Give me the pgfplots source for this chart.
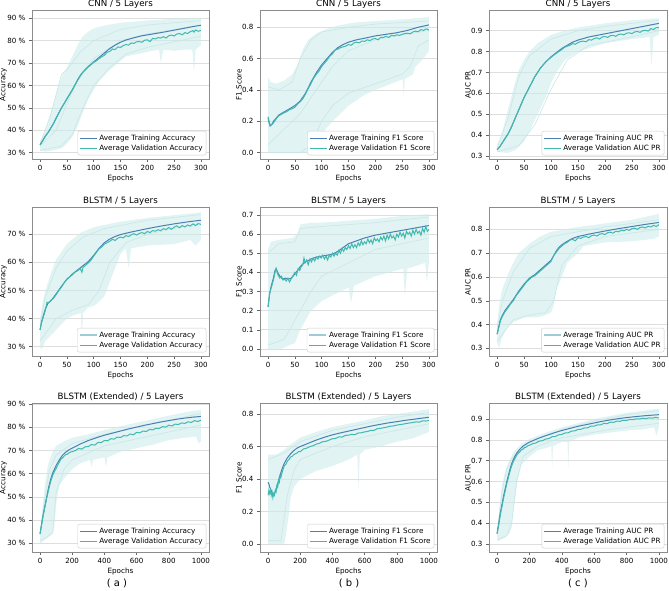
\documentclass[border=0pt]{standalone}
\usepackage{fontspec}
\setmainfont{DejaVu Sans}
\usepackage{pgfplots}
\pgfplotsset{compat=1.18}
\definecolor{trainc}{RGB}{74,128,182}
\definecolor{valc}{RGB}{64,186,172}
\definecolor{bandc}{RGB}{205,235,235}
\definecolor{runc}{RGB}{200,231,231}
\definecolor{legtrain}{RGB}{160,202,218}
\pgfplotsset{
  panel/.style={
    scale only axis, width=177pt, height=149pt, anchor=south west,
    axis line style={draw=black!45, line width=0.5pt},
    ymajorgrids, grid style={draw=black!13, line width=0.6pt},
    tick align=outside, xtick pos=left, ytick pos=left,
    major tick length=3pt, tick style={draw=black!60, line width=0.5pt},
    tick label style={font=\fontsize{7.1}{8}\selectfont},
    /pgf/number format/assume math mode=true,
    /pgf/number format/1000 sep={},
    label style={font=\fontsize{7.25}{8}\selectfont},
    title style={font=\fontsize{8.7}{10}\selectfont, at={(0.5,1)}, anchor=south, inner sep=0pt, yshift=-4.5pt},
    xlabel=Epochs, xlabel style={inner sep=1pt},
    ylabel style={inner sep=1pt}, ylabel shift=-4pt,
    legend style={at={(0.985,0.025)}, anchor=south east, draw=black!20, rounded corners=2pt,
      font=\fontsize{7.25}{8.5}\selectfont, fill=white,
      inner sep=1.5pt, row sep=-1pt},
    legend cell align=left,
    xmin=-15, xmax=315, xtick={0,50,...,300},
  },
  ext/.style={xmin=-50, xmax=1050, xtick={0,200,...,1000}},
  pct/.style={ytick={30,40,...,90}, yticklabels={{30 \%},{40 \%},{50 \%},{60 \%},{70 \%},{80 \%},{90 \%}}},
  onedec/.style={yticklabel style={/pgf/number format/.cd, fixed, fixed zerofill, precision=1}},
  band/.style={fill=bandc, draw=none, forget plot, fill opacity=0.6},
  run/.style={runc, line width=0.6pt, forget plot},
  tr/.style={trainc, line width=1pt},
  va/.style={valc, line width=1pt},
}
\begin{document}
\begin{tikzpicture}
\useasboundingbox (0,0) rectangle (669pt,591pt);
% ---------------- Row 1: CNN ----------------
\begin{axis}[panel, pct, at={(32pt,432pt)}, ymin=27.2, ymax=93.7, title={CNN / 5 Layers}, ylabel={Accuracy}]
\addplot[band] coordinates {(0,35)(10,40)(20,48)(30,56)(40,64)(50,68)(60,73)(70,78)(80,82)(90,84)(100,85.5)(125,87)(150,88)(200,89)(250,89.8)(300,90.3)
 (300,78)(290,76)(287,66)(284,76)(270,76)(250,75.5)(230,76)(225,70)(222,76)(200,75)(180,74)(160,73)(150,71)(130,67)(110,62)(100,58)(90,54)(80,48)(70,42)(60,37)(50,34)(40,32)(25,31)(10,30.5)(0,31)};
\addplot[run] coordinates {(0,34)(20,47)(40,65)(50,67)(75,75)(100,80)(150,85)(200,87)(300,89)};
\addplot[run] coordinates {(0,31)(40,33)(60,38)(80,50)(100,60)(130,68)(160,74)(200,77)(300,82)};
\addplot[run] coordinates {(0,33)(30,40)(50,52)(70,62)(100,72)(150,80)(200,83)(300,87)};
\addplot[tr] coordinates {(0,33.5)(5,35.5)(10,37.5)(15,39)(20,41)(25,43)(30,45.5)(40,50)(50,54)(60,58)(70,62.5)(75,64.5)(80,66)(90,68.5)(100,70.5)(110,72.5)(120,74.5)(130,76.5)(140,78)(150,79.3)(160,80.3)(175,81.3)(190,82.2)(210,83)(230,83.8)(250,84.7)(270,85.6)(285,86.3)(300,86.9)};
\addplot[va] coordinates {(0,33.5)(5,35.3)(10,37.3)(15,39)(20,41)(25,43)(30,45.3)(40,50)(50,54)(60,58)(70,62.3)(75,64.3)(80,66)(90,68.3)(100,70.3)(105,71)(110,72)(115,72.8)(120,73.5)(125,74.8)(130,75.2)(135,76.3)(140,76)(145,77.2)(150,77)(155,77.8)(160,78.3)(165,78)(170,79)(175,78.8)(180,79.5)(185,79.6)(190,79.3)(195,80.2)(200,80.4)(205,79.6)(210,81)(215,80.8)(220,81.4)(225,81.2)(230,81.8)(235,81.2)(240,82.2)(245,82.5)(250,82.1)(255,83)(260,83.2)(265,82.6)(270,83.6)(275,83.2)(280,84)(285,84.5)(287,83.8)(290,84.8)(295,84.2)(300,84.6)};
\legend{Average Training Accuracy, Average Validation Accuracy}
\end{axis}
\begin{axis}[panel, onedec, at={(260pt,432pt)}, ymin=-0.04, ymax=0.91, ytick={0,0.2,...,0.8}, title={CNN / 5 Layers}, ylabel={F1 Score}]
\addplot[band] coordinates {(0,0.48)(5,0.45)(15,0.44)(30,0.46)(45,0.5)(55,0.56)(65,0.66)(75,0.72)(90,0.76)(110,0.79)(130,0.81)(160,0.83)(200,0.84)(250,0.85)(300,0.865)
 (300,0.65)(290,0.6)(275,0.55)(270,0.5)(255,0.47)(253,0.36)(251,0.47)(230,0.44)(200,0.4)(180,0.37)(150,0.3)(120,0.2)(100,0.12)(90,0.05)(80,0.0)(0,0.0)};
\addplot[run] coordinates {(0,0.0)(60,0.0)(80,0.05)(100,0.2)(120,0.3)(150,0.38)(200,0.44)(250,0.5)(265,0.55)(280,0.68)(300,0.72)};
\addplot[run] coordinates {(0,0.42)(20,0.4)(45,0.45)(60,0.6)(80,0.72)(100,0.77)(150,0.8)(200,0.82)(300,0.84)};
\addplot[run] coordinates {(0,0.05)(30,0.15)(60,0.25)(90,0.4)(120,0.55)(150,0.65)(200,0.72)(300,0.78)};
\addplot[tr] coordinates {(0,0.22)(2,0.19)(4,0.17)(7,0.18)(10,0.2)(15,0.22)(20,0.24)(25,0.25)(30,0.26)(40,0.28)(50,0.30)(60,0.33)(70,0.38)(80,0.45)(90,0.51)(100,0.56)(110,0.60)(120,0.64)(130,0.67)(140,0.69)(150,0.705)(165,0.72)(180,0.73)(200,0.745)(220,0.755)(240,0.765)(260,0.78)(280,0.80)(300,0.815)};
\addplot[va] coordinates {(0,0.23)(2,0.2)(4,0.175)(7,0.18)(10,0.19)(15,0.215)(20,0.235)(25,0.245)(30,0.255)(35,0.262)(40,0.275)(45,0.28)(50,0.29)(55,0.31)(60,0.325)(65,0.345)(70,0.375)(75,0.41)(80,0.44)(85,0.475)(90,0.5)(95,0.52)(100,0.55)(105,0.57)(110,0.59)(115,0.615)(120,0.63)(125,0.655)(130,0.66)(135,0.67)(140,0.675)(145,0.68)(150,0.69)(155,0.685)(160,0.7)(165,0.705)(170,0.7)(175,0.712)(180,0.71)(185,0.72)(190,0.715)(195,0.725)(200,0.728)(205,0.72)(210,0.735)(215,0.735)(220,0.742)(225,0.735)(230,0.748)(235,0.745)(240,0.752)(245,0.748)(250,0.755)(255,0.76)(260,0.762)(265,0.758)(270,0.77)(275,0.775)(280,0.772)(285,0.785)(290,0.78)(295,0.79)(300,0.782)};
\legend{Average Training F1 Score, Average Validation F1 Score}
\end{axis}
\begin{axis}[panel, onedec, at={(489pt,432pt)}, width=178pt, ymin=0.286, ymax=0.999, ytick={0.3,0.4,...,0.9}, title={CNN / 5 Layers}, ylabel={AUC PR}]
\addplot[band] coordinates {(0,0.35)(10,0.42)(20,0.52)(30,0.62)(40,0.71)(50,0.76)(60,0.8)(75,0.84)(100,0.88)(125,0.9)(150,0.915)(200,0.935)(250,0.95)(300,0.96)
 (300,0.88)(290,0.87)(286,0.73)(283,0.87)(250,0.86)(200,0.84)(150,0.80)(125,0.76)(110,0.7)(100,0.65)(90,0.58)(75,0.5)(60,0.42)(50,0.37)(35,0.33)(20,0.315)(0,0.32)};
\addplot[run] coordinates {(0,0.34)(20,0.48)(40,0.68)(60,0.78)(100,0.86)(150,0.9)(200,0.92)(300,0.95)};
\addplot[run] coordinates {(0,0.32)(40,0.35)(70,0.45)(100,0.62)(130,0.76)(170,0.83)(230,0.86)(300,0.9)};
\addplot[tr] coordinates {(0,0.33)(5,0.345)(10,0.365)(15,0.385)(20,0.405)(25,0.43)(30,0.46)(40,0.52)(50,0.58)(60,0.63)(70,0.68)(80,0.72)(90,0.75)(100,0.775)(110,0.795)(120,0.815)(130,0.83)(140,0.845)(150,0.855)(170,0.87)(190,0.88)(210,0.89)(230,0.9)(250,0.91)(270,0.92)(300,0.935)};
\addplot[va] coordinates {(0,0.33)(5,0.345)(10,0.365)(15,0.385)(20,0.405)(25,0.43)(30,0.46)(40,0.52)(50,0.58)(60,0.63)(70,0.68)(80,0.72)(90,0.75)(100,0.773)(110,0.792)(120,0.81)(125,0.82)(130,0.826)(135,0.83)(140,0.838)(145,0.835)(150,0.843)(155,0.848)(160,0.85)(165,0.847)(170,0.857)(175,0.855)(180,0.862)(185,0.866)(190,0.86)(195,0.87)(200,0.872)(205,0.868)(210,0.876)(215,0.878)(220,0.873)(225,0.882)(230,0.884)(235,0.88)(240,0.888)(245,0.89)(250,0.886)(255,0.894)(260,0.896)(265,0.892)(270,0.9)(275,0.902)(280,0.898)(285,0.91)(290,0.906)(295,0.915)(300,0.914)};
\legend{Average Training AUC PR, Average Validation AUC PR}
\end{axis}
% ---------------- Row 2: BLSTM ----------------
\begin{axis}[panel, at={(32pt,235pt)}, ymin=26.7, ymax=79.7, ytick={30,40,...,70}, yticklabels={{30 \%},{40 \%},{50 \%},{60 \%},{70 \%}}, title={BLSTM / 5 Layers}, ylabel={Accuracy}]
\addplot[band] coordinates {(0,40)(5,46)(10,50)(20,56)(30,61)(50,66.5)(75,70.5)(100,72.5)(125,73.5)(150,74.5)(200,75.8)(250,76.8)(300,77.8)
 (300,68)(290,66)(280,68)(250,66.5)(200,66)(170,65)(165,58)(160,65)(150,63)(140,58)(130,53)(120,48)(110,46)(100,44.5)(90,44)(80,42)(78,33)(76,42)(60,41)(50,40)(40,38)(25,35)(10,32)(3,29)(0,30)};
\addplot[run] coordinates {(0,38)(10,48)(30,58)(50,64)(80,69)(120,72)(200,75)(300,77)};
\addplot[run] coordinates {(0,32)(30,40)(60,43)(90,45)(110,50)(130,60)(160,67)(200,70)(300,74)};
\addplot[forget plot, tr] coordinates {(0,36)(3,39)(6,41)(10,43.5)(15,45.5)(20,46.3)(25,47.5)(30,48.8)(40,51.5)(50,54)(60,55.8)(70,57.3)(80,58.8)(90,60.3)(100,62.5)(110,65)(120,67)(130,68.3)(140,69.2)(150,69.9)(170,70.8)(200,72)(225,72.9)(250,73.7)(275,74.4)(300,75)};
\addplot[forget plot, va] coordinates {(0,36)(3,38.7)(6,40.5)(10,43)(13,45.8)(15,45.5)(18,46)(20,46.5)(25,47.2)(30,48.5)(35,50)(40,51.2)(45,52.8)(50,54)(55,54.8)(60,55.5)(65,56.5)(70,57)(75,57.8)(78,56.5)(80,58.2)(85,59)(90,59.8)(95,60.8)(100,62.2)(105,63.5)(110,64.8)(115,65.5)(120,66.5)(125,67)(130,67.5)(135,68.2)(140,67.8)(145,68.6)(150,69)(155,68.7)(160,69.5)(165,69.2)(170,69.8)(175,70.2)(180,69.7)(185,70.3)(190,70.6)(195,70.2)(200,71)(205,70.6)(210,71.3)(215,71.1)(220,71.6)(225,71.3)(230,72)(235,71.7)(240,72.4)(245,71.8)(250,72.5)(255,73)(260,72.3)(265,73.1)(270,72.6)(275,73.3)(280,72.9)(285,73.7)(290,73.1)(295,73.8)(300,73.5)};
\addlegendimage{legtrain, line width=1.5pt}\addlegendentry{Average Training Accuracy}
\addlegendimage{valc, line width=1pt}\addlegendentry{Average Validation Accuracy}
\end{axis}
\begin{axis}[panel, onedec, at={(260pt,235pt)}, ymin=-0.037, ymax=0.742, ytick={0,0.1,...,0.7}, title={BLSTM / 5 Layers}, ylabel={F1 Score}]
\addplot[band] coordinates {(0,0.52)(5,0.56)(20,0.57)(45,0.58)(55,0.6)(60,0.65)(80,0.66)(100,0.66)(150,0.67)(200,0.68)(250,0.695)(300,0.705)
 (300,0.45)(296,0.35)(293,0.45)(260,0.42)(255,0.28)(252,0.42)(200,0.38)(160,0.33)(155,0.24)(150,0.32)(120,0.28)(100,0.25)(80,0.2)(60,0.1)(50,0.03)(40,0.02)(25,0.0)(0,0.0)};
\addplot[run] coordinates {(0,0.5)(20,0.55)(50,0.56)(60,0.63)(100,0.64)(200,0.66)(300,0.69)};
\addplot[run] coordinates {(0,0.02)(30,0.05)(50,0.15)(80,0.3)(100,0.38)(150,0.45)(200,0.52)(300,0.58)};
\addplot[forget plot, tr] coordinates {(0,0.22)(3,0.29)(6,0.33)(10,0.37)(13,0.41)(15,0.42)(18,0.4)(22,0.38)(27,0.365)(32,0.37)(38,0.365)(43,0.37)(48,0.385)(55,0.41)(60,0.43)(65,0.445)(70,0.455)(80,0.47)(90,0.48)(100,0.485)(110,0.49)(120,0.495)(130,0.51)(140,0.53)(150,0.55)(165,0.565)(180,0.58)(200,0.595)(220,0.605)(240,0.615)(260,0.625)(280,0.635)(300,0.645)};
\addplot[forget plot, va] coordinates {(0,0.22)(3,0.29)(6,0.32)(10,0.36)(13,0.4)(15,0.42)(18,0.39)(22,0.37)(25,0.38)(28,0.36)(31,0.365)(34,0.355)(37,0.37)(40,0.35)(43,0.365)(46,0.38)(50,0.4)(53,0.385)(56,0.42)(59,0.41)(62,0.43)(65,0.44)(67,0.475)(69,0.45)(72,0.465)(75,0.44)(78,0.47)(81,0.455)(84,0.475)(87,0.46)(90,0.48)(93,0.47)(96,0.485)(99,0.475)(102,0.49)(105,0.47)(108,0.485)(111,0.465)(114,0.49)(117,0.48)(120,0.5)(123,0.485)(126,0.5)(129,0.49)(132,0.515)(135,0.5)(138,0.525)(141,0.51)(144,0.53)(147,0.52)(150,0.54)(153,0.525)(156,0.55)(159,0.53)(162,0.545)(165,0.53)(168,0.555)(171,0.54)(174,0.565)(177,0.545)(180,0.56)(183,0.55)(186,0.575)(189,0.555)(192,0.57)(195,0.55)(198,0.58)(201,0.565)(204,0.575)(207,0.56)(210,0.585)(213,0.57)(216,0.59)(219,0.565)(222,0.595)(225,0.575)(228,0.6)(231,0.58)(234,0.59)(237,0.57)(240,0.6)(243,0.585)(246,0.61)(249,0.59)(252,0.605)(255,0.58)(258,0.615)(261,0.6)(264,0.61)(267,0.59)(270,0.62)(273,0.6)(276,0.625)(279,0.605)(282,0.615)(285,0.595)(288,0.63)(291,0.61)(294,0.64)(297,0.615)(300,0.625)};
\addlegendimage{legtrain, line width=1.5pt}\addlegendentry{Average Training F1 Score}
\addlegendimage{valc, line width=1pt}\addlegendentry{Average Validation F1 Score}
\end{axis}
\begin{axis}[panel, onedec, at={(489pt,235pt)}, width=178pt, ymin=0.268, ymax=0.894, ytick={0.3,0.4,...,0.8}, title={BLSTM / 5 Layers}, ylabel={AUC PR}]
\addplot[band] coordinates {(0,0.4)(5,0.5)(10,0.55)(20,0.61)(30,0.66)(40,0.7)(60,0.74)(80,0.77)(100,0.79)(150,0.81)(200,0.825)(250,0.84)(300,0.865)
 (300,0.77)(290,0.76)(250,0.75)(200,0.745)(160,0.73)(150,0.7)(130,0.66)(120,0.6)(110,0.55)(105,0.48)(100,0.45)(90,0.44)(75,0.43)(50,0.43)(30,0.41)(20,0.39)(10,0.35)(3,0.3)(0,0.33)};
\addplot[run] coordinates {(0,0.38)(10,0.5)(30,0.62)(60,0.72)(100,0.77)(200,0.81)(300,0.84)};
\addplot[run] coordinates {(0,0.33)(30,0.42)(60,0.44)(90,0.45)(105,0.5)(120,0.65)(150,0.73)(200,0.77)(300,0.8)};
\addplot[forget plot, tr] coordinates {(0,0.36)(3,0.39)(6,0.42)(10,0.44)(15,0.46)(20,0.475)(25,0.49)(30,0.505)(40,0.54)(50,0.57)(60,0.595)(70,0.61)(80,0.63)(90,0.65)(100,0.67)(105,0.69)(110,0.71)(115,0.725)(120,0.735)(130,0.75)(140,0.762)(150,0.77)(170,0.78)(200,0.793)(225,0.803)(250,0.812)(275,0.821)(300,0.829)};
\addplot[forget plot, va] coordinates {(0,0.36)(3,0.385)(6,0.415)(10,0.435)(15,0.455)(20,0.47)(25,0.487)(30,0.5)(35,0.52)(40,0.535)(45,0.55)(50,0.565)(55,0.58)(60,0.59)(65,0.6)(70,0.605)(75,0.615)(80,0.625)(85,0.635)(90,0.645)(95,0.655)(100,0.665)(105,0.69)(110,0.705)(115,0.72)(120,0.73)(125,0.74)(130,0.745)(135,0.755)(140,0.758)(145,0.752)(150,0.765)(155,0.762)(160,0.768)(165,0.77)(170,0.765)(175,0.774)(180,0.776)(185,0.772)(190,0.78)(195,0.782)(200,0.778)(205,0.786)(210,0.788)(215,0.784)(220,0.792)(225,0.79)(230,0.796)(235,0.794)(240,0.8)(245,0.796)(250,0.803)(255,0.805)(260,0.8)(265,0.808)(270,0.81)(275,0.806)(280,0.813)(285,0.81)(290,0.817)(295,0.812)(300,0.82)};
\addlegendimage{legtrain, line width=1.5pt}\addlegendentry{Average Training AUC PR}
\addlegendimage{valc, line width=1pt}\addlegendentry{Average Validation AUC PR}
\end{axis}
% ---------------- Row 3: BLSTM (Extended) ----------------
\begin{axis}[panel, ext, pct, at={(32pt,39pt)}, ymin=26.2, ymax=90.5, title={BLSTM (Extended) / 5 Layers}, ylabel={Accuracy}]
\addplot[band] coordinates {(0,35)(15,45)(30,55)(50,64)(75,69)(100,72)(150,74)(200,75.5)(300,77)(400,78.8)(500,80.5)(600,82)(700,83.5)(800,85)(900,86.5)(1000,87.5)
 (1000,74)(985,73)(970,76)(900,75.5)(800,74.5)(700,72.5)(600,71)(500,69.5)(420,67)(410,63)(400,67)(330,66)(320,63)(310,66)(250,64.5)(200,62)(150,58)(120,55)(100,47)(90,38)(80,34)(60,33)(40,32)(20,31)(5,29.5)(0,30)};
\addplot[run] coordinates {(0,34)(30,50)(60,62)(100,68)(200,73)(400,77)(600,80)(800,83)(1000,86)};
\addplot[run] coordinates {(0,31)(50,33)(80,35)(100,52)(150,62)(200,66)(400,72)(600,75)(800,78)(1000,81)};
\addplot[tr] coordinates {(0,34)(10,38.5)(20,42.5)(30,46)(40,49.5)(50,53)(60,56)(70,58.5)(80,60.5)(90,62)(100,63.5)(120,66)(140,68)(160,69.3)(180,70.3)(200,71)(250,72.8)(300,74.3)(350,75.5)(400,76.6)(450,77.5)(500,78.4)(550,79.3)(600,80.1)(650,80.9)(700,81.6)(750,82.3)(800,82.9)(850,83.5)(900,84)(950,84.4)(1000,84.7)};
\addplot[va] coordinates {(0,34)(10,38)(20,42)(30,45.5)(40,49)(50,52)(60,55)(70,57.5)(80,59.5)(90,61)(100,62.2)(110,63.8)(120,65)(130,66.3)(140,66.8)(150,67.6)(160,68.3)(170,68.4)(180,69)(190,69.4)(200,69.5)(220,70)(240,70.9)(260,70.6)(280,71.6)(300,71.7)(320,72.6)(340,72.3)(360,73.5)(380,73.4)(400,74.3)(420,74.2)(440,75.1)(460,74.9)(480,75.8)(500,75.6)(520,76.4)(540,76.3)(560,77.1)(580,76.8)(600,77.8)(620,77.6)(640,78.4)(660,78.2)(680,79.1)(700,78.9)(720,79.6)(740,79.5)(760,80.3)(780,80.1)(800,80.9)(820,80.6)(840,81.4)(860,81.2)(880,81.9)(900,81.7)(920,82.4)(940,82.1)(960,82.9)(980,82.5)(1000,83.1)};
\legend{Average Training Accuracy, Average Validation Accuracy}
\end{axis}
\begin{axis}[panel, ext, onedec, at={(260pt,39pt)}, ymin=-0.049, ymax=0.868, ytick={0,0.2,...,0.8}, title={BLSTM (Extended) / 5 Layers}, ylabel={F1 Score}]
\addplot[band] coordinates {(0,0.55)(50,0.55)(100,0.58)(150,0.62)(200,0.655)(300,0.69)(400,0.72)(500,0.74)(600,0.76)(700,0.785)(800,0.8)(900,0.815)(1000,0.83)
 (1000,0.69)(900,0.65)(800,0.63)(700,0.6)(600,0.58)(570,0.55)(562,0.34)(555,0.55)(500,0.52)(400,0.48)(300,0.45)(200,0.4)(160,0.35)(140,0.28)(125,0.15)(110,0.05)(100,0.0)(0,0.0)};
\addplot[run] coordinates {(0,0.52)(50,0.54)(100,0.56)(200,0.63)(400,0.7)(600,0.74)(800,0.78)(1000,0.81)};
\addplot[run] coordinates {(0,0.02)(80,0.02)(120,0.3)(160,0.45)(200,0.52)(400,0.6)(600,0.66)(800,0.7)(1000,0.74)};
\addplot[tr] coordinates {(0,0.38)(5,0.37)(10,0.35)(20,0.33)(30,0.305)(40,0.31)(50,0.34)(60,0.37)(70,0.41)(80,0.44)(90,0.47)(100,0.495)(120,0.53)(140,0.555)(160,0.575)(180,0.59)(200,0.6)(250,0.62)(300,0.64)(350,0.657)(400,0.672)(450,0.684)(500,0.695)(550,0.706)(600,0.717)(650,0.728)(700,0.737)(750,0.746)(800,0.753)(850,0.761)(900,0.767)(950,0.774)(1000,0.78)};
\addplot[va] coordinates {(0,0.3)(5,0.33)(10,0.31)(15,0.33)(20,0.3)(25,0.32)(30,0.285)(35,0.31)(40,0.3)(45,0.33)(50,0.32)(55,0.36)(60,0.35)(65,0.39)(70,0.38)(75,0.42)(80,0.41)(90,0.45)(100,0.48)(110,0.49)(120,0.51)(130,0.52)(140,0.535)(150,0.54)(160,0.55)(170,0.555)(180,0.56)(190,0.57)(200,0.568)(220,0.585)(240,0.59)(260,0.6)(280,0.605)(300,0.615)(320,0.62)(340,0.63)(360,0.632)(380,0.64)(400,0.648)(420,0.65)(440,0.66)(460,0.658)(480,0.668)(500,0.67)(520,0.675)(540,0.673)(560,0.683)(580,0.685)(600,0.69)(620,0.693)(640,0.7)(660,0.7)(680,0.71)(700,0.712)(720,0.716)(740,0.72)(760,0.725)(780,0.727)(800,0.732)(820,0.735)(840,0.738)(860,0.742)(880,0.745)(900,0.748)(920,0.752)(940,0.75)(960,0.758)(980,0.757)(1000,0.76)};
\legend{Average Training F1 Score, Average Validation F1 Score}
\end{axis}
\begin{axis}[panel, ext, onedec, at={(489pt,39pt)}, width=178pt, ymin=0.2615, ymax=0.977, ytick={0.3,0.4,...,0.9}, title={BLSTM (Extended) / 5 Layers}, ylabel={AUC PR}]
\addplot[band] coordinates {(0,0.36)(15,0.48)(30,0.58)(50,0.65)(75,0.7)(100,0.74)(150,0.78)(200,0.805)(300,0.835)(400,0.86)(500,0.88)(600,0.9)(700,0.915)(800,0.93)(900,0.94)(1000,0.95)
 (1000,0.86)(985,0.82)(970,0.86)(900,0.85)(800,0.845)(700,0.835)(600,0.825)(500,0.81)(445,0.79)(440,0.66)(435,0.79)(400,0.79)(345,0.77)(340,0.66)(335,0.77)(300,0.76)(250,0.75)(200,0.72)(150,0.68)(125,0.6)(100,0.45)(90,0.38)(75,0.35)(50,0.33)(20,0.32)(5,0.31)(0,0.33)};
\addplot[run] coordinates {(0,0.35)(30,0.55)(60,0.66)(100,0.72)(200,0.79)(400,0.85)(600,0.89)(800,0.92)(1000,0.94)};
\addplot[run] coordinates {(0,0.32)(60,0.34)(90,0.4)(120,0.6)(160,0.72)(250,0.77)(400,0.81)(700,0.85)(1000,0.88)};
\addplot[tr] coordinates {(0,0.35)(10,0.4)(20,0.45)(30,0.49)(40,0.53)(50,0.565)(60,0.6)(70,0.63)(80,0.66)(90,0.685)(100,0.705)(120,0.735)(140,0.755)(160,0.77)(180,0.78)(200,0.789)(250,0.806)(300,0.82)(350,0.833)(400,0.845)(450,0.855)(500,0.865)(550,0.873)(600,0.881)(650,0.889)(700,0.896)(750,0.902)(800,0.907)(850,0.911)(900,0.915)(950,0.918)(1000,0.921)};
\addplot[va] coordinates {(0,0.35)(10,0.39)(20,0.44)(30,0.48)(40,0.52)(50,0.555)(60,0.59)(70,0.62)(80,0.65)(90,0.675)(100,0.695)(110,0.71)(120,0.725)(130,0.735)(140,0.742)(150,0.752)(160,0.755)(170,0.763)(180,0.765)(190,0.772)(200,0.774)(220,0.782)(240,0.785)(260,0.794)(280,0.796)(300,0.804)(320,0.806)(340,0.815)(360,0.816)(380,0.824)(400,0.826)(420,0.833)(440,0.834)(460,0.842)(480,0.843)(500,0.85)(520,0.851)(540,0.858)(560,0.858)(580,0.866)(600,0.866)(620,0.872)(640,0.872)(660,0.879)(680,0.878)(700,0.885)(720,0.884)(740,0.89)(760,0.889)(780,0.894)(800,0.893)(820,0.898)(840,0.897)(860,0.901)(880,0.9)(900,0.904)(920,0.902)(940,0.906)(960,0.904)(980,0.908)(1000,0.905)};
\legend{Average Training AUC PR, Average Validation AUC PR}
\end{axis}
\node[font=\fontsize{10}{12}\selectfont] at (117pt,8pt) {( a )};
\node[font=\fontsize{10}{12}\selectfont] at (349pt,8pt) {( b )};
\node[font=\fontsize{10}{12}\selectfont] at (578pt,8pt) {( c )};
\end{tikzpicture}
\end{document}
